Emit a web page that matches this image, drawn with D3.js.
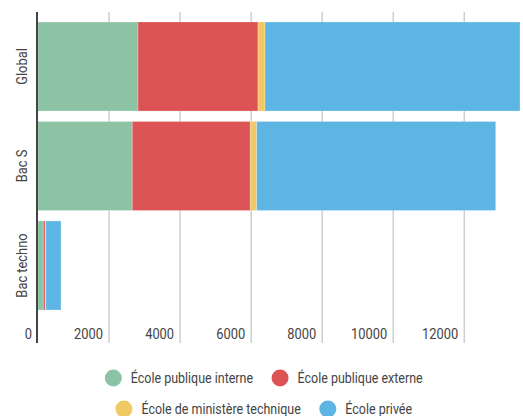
<!DOCTYPE html>
<html>
<head>
<meta charset="utf-8">
<script src="https://cdn.jsdelivr.net/npm/d3@7/dist/d3.min.js"></script>
<style>
    body { margin: 0; background: #fff; }
    svg text { font-family: Roboto, "Liberation Sans", sans-serif; fill: #444; }
</style>
</head>
<body>
<script>
    var w = 523;
    var h = 416;

    // data
    var categories = ["Global", "Bac S", "Bac techno"];
    var seriesNames = ["École publique interne", "École publique externe", "École de ministère technique", "École privée"];
    var publiqueInterne = [2815, 2654, 150];
    var publiqueExterne = [3378, 3322, 55];
    var ministereTechnique = [197, 180, 17];
    var privee = [7178, 6728, 425];
    var tickValues = [0, 2000, 4000, 6000, 8000, 10000, 12000];
    var colors = ["#8cc3a5", "#db5355", "#f0c965", "#5db5e3"];

    var squeeze = 0.86; // the original font is a condensed face

    var rows = categories.map(function(c, i) {
        return {
            cat: c,
            s0: publiqueInterne[i],
            s1: publiqueExterne[i],
            s2: ministereTechnique[i],
            s3: privee[i]
        };
    });
    var keys = ["s0", "s1", "s2", "s3"];
    var stacked = d3.stack().keys(keys)(rows);

    var svg = d3.select("body").append("svg")
        .attr("width", w)
        .attr("height", h);

    var x = d3.scaleLinear()
        .domain([0, d3.max(rows, function(d) { return d.s0 + d.s1 + d.s2 + d.s3; })])
        .range([38, 520]);

    var y = d3.scaleBand()
        .domain(categories)
        .range([16.75, 315.25])
        .paddingInner(0.105)
        .paddingOuter(0.0527);

    var gridTop = 12, gridBottom = 343;

    // gridlines
    svg.append("g")
        .selectAll("line")
        .data(tickValues.filter(function(d) { return d > 0; }))
        .enter()
        .append("line")
        .attr("x1", function(d) { return x(d); })
        .attr("x2", function(d) { return x(d); })
        .attr("y1", gridTop)
        .attr("y2", gridBottom)
        .attr("stroke", "#cfcfcf")
        .attr("stroke-width", 1.5);

    // bars
    svg.append("g")
        .selectAll("g")
        .data(stacked)
        .enter()
        .append("g")
        .attr("fill", function(d, i) { return colors[i]; })
        .selectAll("rect")
        .data(function(d) { return d; })
        .enter()
        .append("rect")
        .attr("x", function(d) { return x(d[0]); })
        .attr("y", function(d) { return y(d.data.cat); })
        .attr("width", function(d) { return x(d[1]) - x(d[0]); })
        .attr("height", y.bandwidth())
        .attr("stroke", "#fff")
        .attr("stroke-opacity", 0.25)
        .attr("stroke-width", 1);

    // axis line
    svg.append("line")
        .attr("x1", 37).attr("x2", 37)
        .attr("y1", gridTop).attr("y2", gridBottom)
        .attr("stroke", "#444")
        .attr("stroke-width", 2);

    // x tick labels, right aligned against their gridline
    svg.append("g")
        .selectAll("g")
        .data(tickValues)
        .enter()
        .append("g")
        .attr("transform", function(d) {
            return "translate(" + (x(d) - 6) + ",339) scale(" + squeeze + ",1)";
        })
        .append("text")
        .attr("text-anchor", "end")
        .attr("font-size", "15px")
        .text(function(d) { return d; });

    // category labels
    svg.append("g")
        .selectAll("g")
        .data(categories)
        .enter()
        .append("g")
        .attr("transform", function(d) {
            return "translate(27," + (y(d) + y.bandwidth() / 2) + ") rotate(-90) scale(" + squeeze + ",1)";
        })
        .append("text")
        .attr("text-anchor", "middle")
        .attr("font-size", "15px")
        .attr("fill", "#333")
        .text(function(d) { return d; });

    // legend, two centred rows
    var legendRows = [[0, 1], [2, 3]];
    var legendY = [378, 409];
    var legendCx = 264;
    var r = 8.5;
    var gapDotText = 18;
    var gapItems = 18;

    legendRows.forEach(function(items, ri) {
        var g = svg.append("g");
        var parts = items.map(function(k) {
            var item = g.append("g");
            item.append("circle")
                .attr("r", r)
                .attr("fill", colors[k]);
            var t = item.append("g")
                .attr("transform", "translate(" + (gapDotText - 0.5) + ",5) scale(" + squeeze + ",1)")
                .append("text")
                .attr("font-size", "14.5px")
                .attr("fill", "#333")
                .text(seriesNames[k]);
            return { item: item, tw: t.node().getComputedTextLength() * squeeze };
        });
        var total = 0;
        parts.forEach(function(p, i) {
            total += r + gapDotText + p.tw + (i < parts.length - 1 ? gapItems : 0);
        });
        var cursor = legendCx - total / 2;
        parts.forEach(function(p) {
            p.item.attr("transform", "translate(" + (cursor + r) + "," + legendY[ri] + ")");
            cursor += r + gapDotText + p.tw + gapItems;
        });
    });
</script>
</body>
</html>
